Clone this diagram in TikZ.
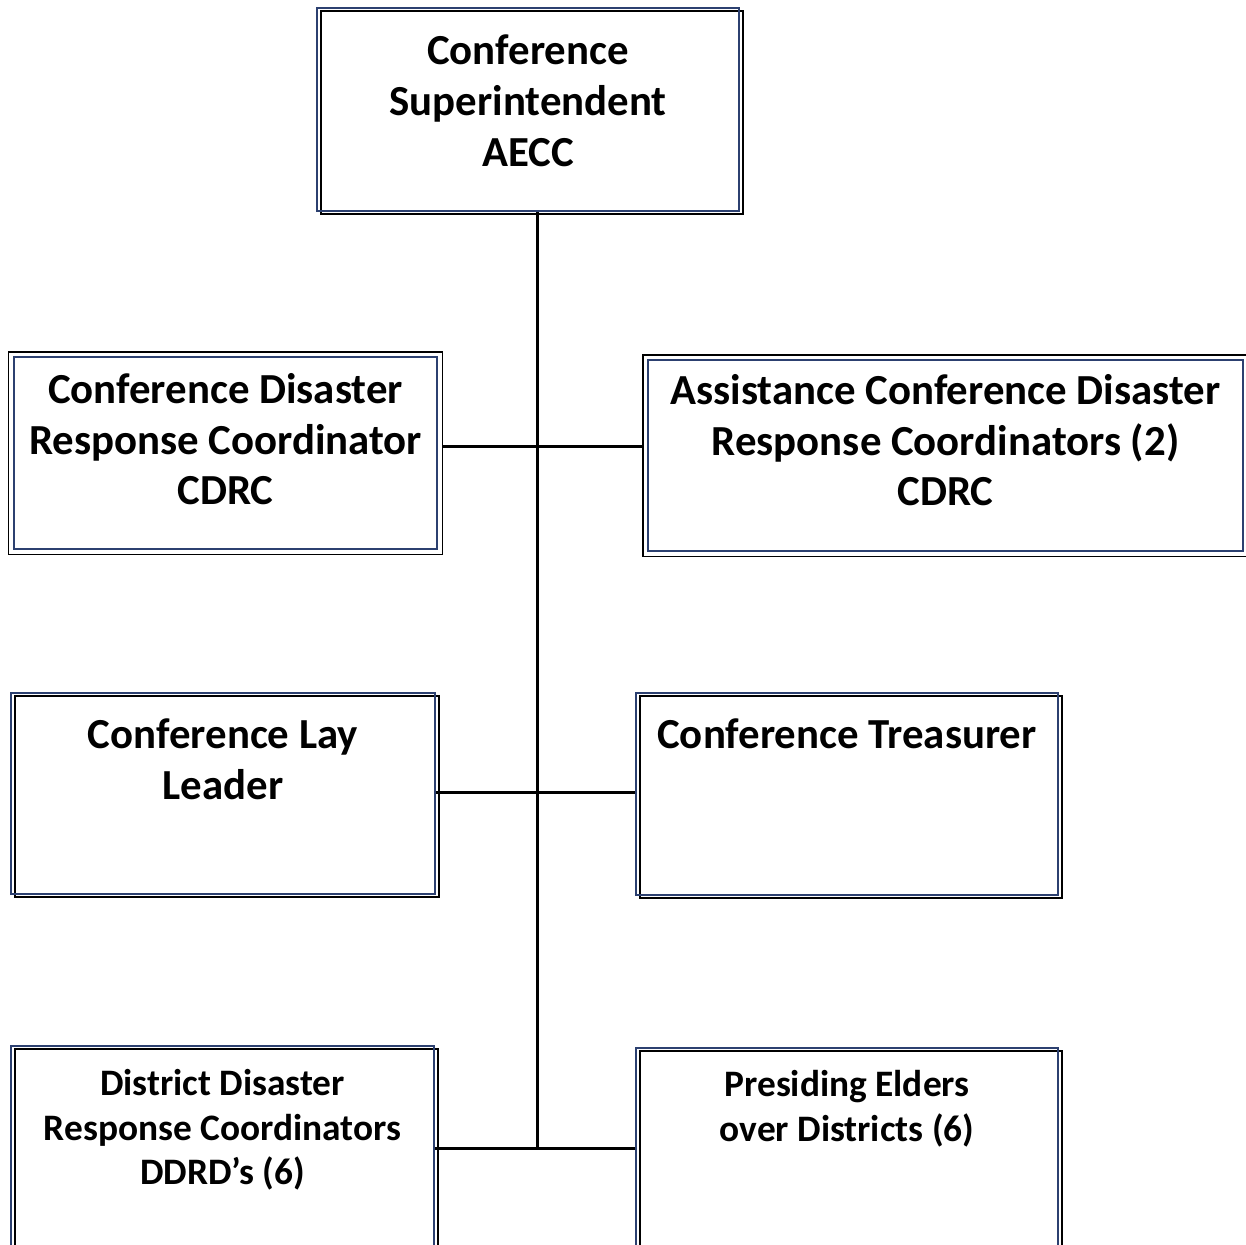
\documentclass[tikz,border=0pt]{standalone}
\usepackage{fontspec}
\setmainfont{Carlito}
\usetikzlibrary{positioning}
\definecolor{navy}{RGB}{44,64,112}
\tikzset{orgbox/.style = {rectangle, draw = navy, line width = 2.4bp, inner sep = 0,
                          preaction = {draw = black, line width = 1.4bp,
                                       transform canvas = {xshift = 4bp, yshift = -3bp}}}}
\tikzset{framebox/.style = {rectangle, draw = navy, line width = 2.4bp, inner sep = 0, fill = white,
                            outer sep = 5bp,
                            preaction = {draw = black, line width = 12bp},
                            preaction = {draw = white, line width = 9bp}}}
\tikzset{boxtext/.style = {inner sep = 0, align = center, font = \fontsize{43}{51}\selectfont\bfseries}}
\tikzset{smalltext/.style = {inner sep = 0, align = center, font = \fontsize{37.5}{45}\selectfont\bfseries}}
\tikzset{link/.style = {line width = 3bp}}

\begin{document}
\begin{tikzpicture}[x = 1bp, y = -1bp]
    \useasboundingbox (0, 0) rectangle (1246, 1245);
    \clip (0, 0) rectangle (1246, 1245);

    \node [orgbox, minimum width = 422bp, minimum height = 203bp] (sup) at (528, 109.5) {};
    \node [boxtext, below = 28bp of sup.north] (suptext) {Conference\\Superintendent\\AECC};

    \node [framebox, minimum width = 423bp, minimum height = 192bp] (cdrc) at (225.5, 453) {};
    \node [boxtext, below = 21bp of cdrc.north] (cdrctext) {Conference Disaster\\Response Coordinator\\CDRC};

    \node [framebox, minimum width = 595bp, minimum height = 191bp] (acdrc) at (945.5, 455.5) {};
    \node [boxtext, below = 19bp of acdrc.north] (acdrctext) {Assistance Conference Disaster\\Response Coordinators (2)\\CDRC};

    \node [orgbox, minimum width = 424bp, minimum height = 201bp] (lay) at (223, 793.5) {};
    \node [boxtext, below = 27bp of lay.north] (laytext) {Conference Lay\\Leader};

    \node [orgbox, minimum width = 422bp, minimum height = 202bp] (treas) at (847, 794) {};
    \node [boxtext, below = 27bp of treas.north] (treastext) {Conference Treasurer};

    \node [orgbox, minimum width = 423bp, minimum height = 260bp] (ddrc) at (222.5, 1176) {};
    \node [smalltext, below = 24bp of ddrc.north] (ddrctext) {District Disaster\\Response Coordinators\\DDRD’s (6)};

    \node [orgbox, minimum width = 422bp, minimum height = 260bp] (elders) at (847, 1178) {};
    \node [smalltext, below = 23bp of elders.north] (elderstext) {Presiding Elders\\over Districts (6)};

    % spine
    \coordinate (j1) at (537, 446);
    \coordinate (j2) at (537, 792);
    \coordinate (j3) at (537, 1148);
    \draw [link] (j1 |- sup.south) -- (j3);
    \draw [link] (cdrc.east |- j1) -- (acdrc.west |- j1);
    \draw [link] (lay.east |- j2) -- (treas.west |- j2);
    \draw [link] (ddrc.east |- j3) -- (elders.west |- j3);
  \end{tikzpicture}
\end{document}
